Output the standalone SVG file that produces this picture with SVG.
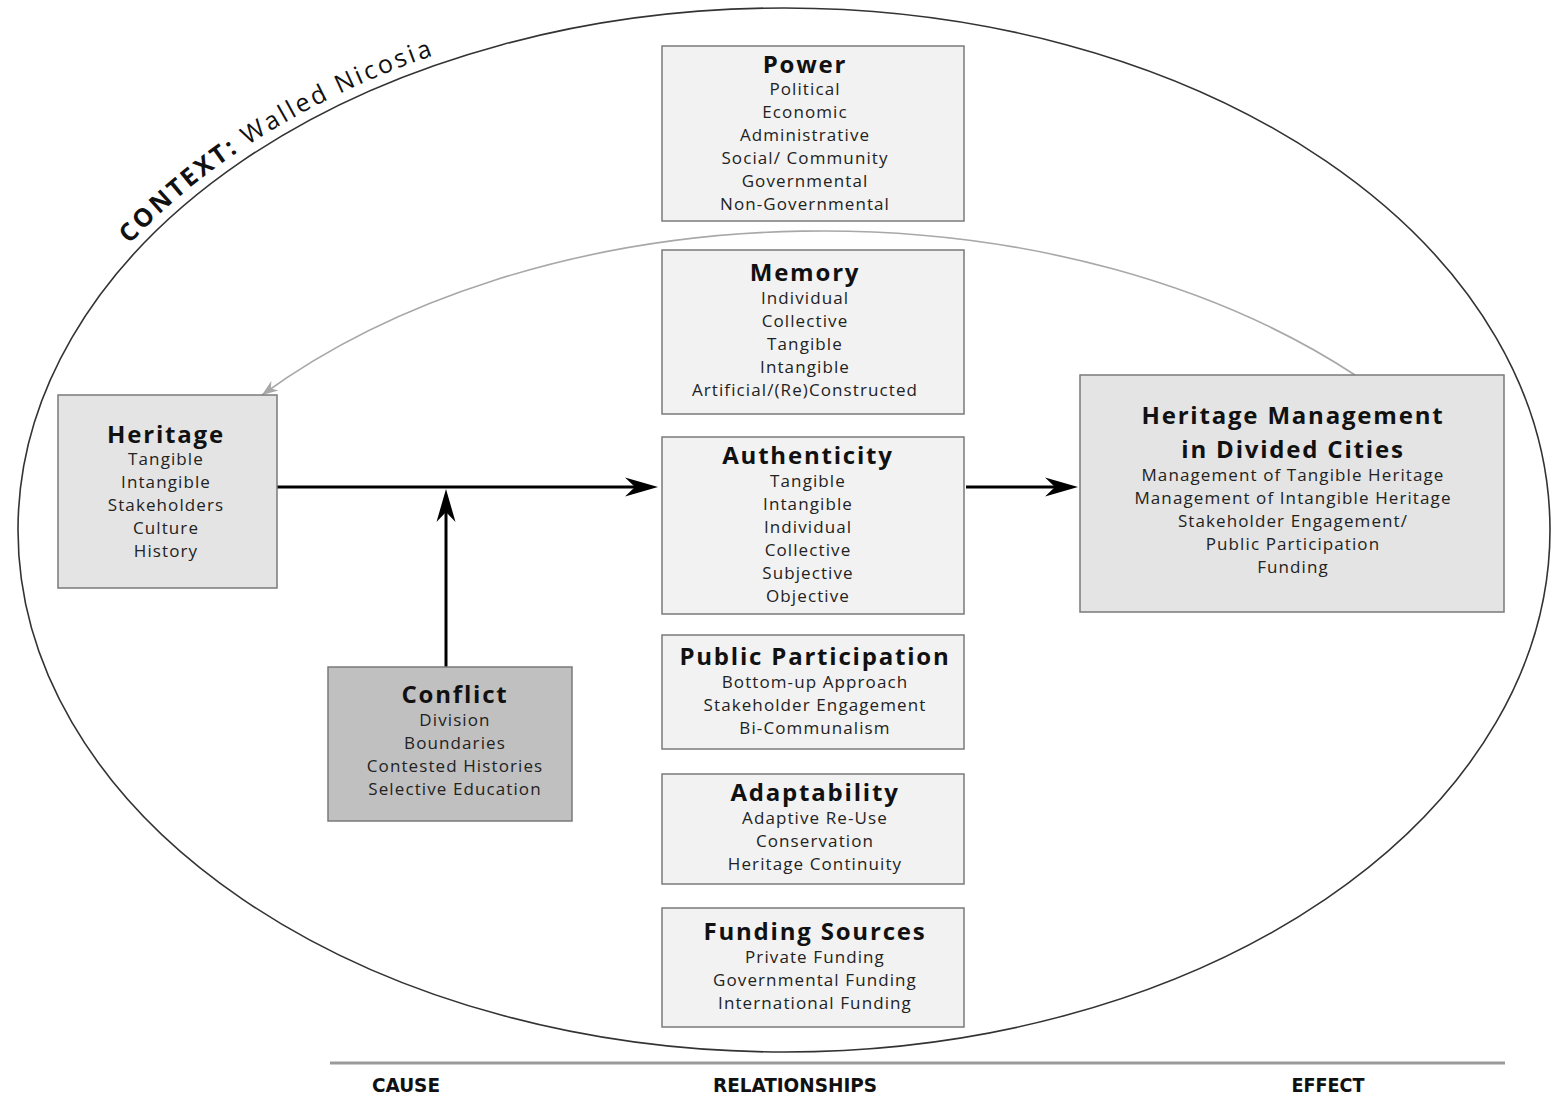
<svg xmlns="http://www.w3.org/2000/svg" width="1551" height="1097" viewBox="0 0 1551 1097">
  <style>
    .box { stroke: #7a7a7a; stroke-width: 1.5; }
    .light { fill: #f2f2f2; }
    .mid { fill: #e4e4e4; }
    .dark { fill: #c0c0c0; }
    .title { font-family: "Open Sans", "Noto Sans", sans-serif; font-weight: 700; font-size: 24px; letter-spacing: 1.8px; fill: #111; text-anchor: middle; }
    .item { font-family: "Open Sans", "Noto Sans", sans-serif; font-size: 17px; letter-spacing: 1.1px; fill: #222; text-anchor: middle; }
    .axis { font-family: "Liberation Sans Narrow", "DejaVu Sans Condensed", "Liberation Sans", sans-serif; font-stretch: condensed; font-weight: 700; font-size: 20px; fill: #111; text-anchor: middle; }
    .ctx { font-family: "Open Sans", "Noto Sans", sans-serif; font-size: 25px; letter-spacing: 2.8px; fill: #111; }
    .flow { fill: none; stroke: #000; stroke-width: 3; }
    .feedback { fill: none; stroke: #a8a8a8; stroke-width: 1.6; }
  </style>
  <defs>
    <marker id="head" markerUnits="userSpaceOnUse" viewBox="-36 -11 38 22" markerWidth="38" markerHeight="22" refX="-18" refY="0" orient="auto">
      <path d="M0,0 L-33,-9.5 L-23,0 L-33,9.5 Z" fill="#000"/>
    </marker>
    <marker id="headGrey" markerUnits="userSpaceOnUse" viewBox="-18 -7 20 14" markerWidth="20" markerHeight="14" refX="0" refY="0" orient="auto">
      <path d="M0,0 L-16,-6 L-11,0 L-16,6 Z" fill="#a8a8a8"/>
    </marker>
    <path id="ctxPath" d="M 8 530 A 776 532 0 0 1 784 -2"/>
  </defs>

  <rect width="1551" height="1097" fill="#fff"/>

  <!-- context boundary -->
  <g id="context">
    <ellipse cx="784" cy="530" rx="766" ry="522" fill="none" stroke="#333" stroke-width="1.6"/>
    <text class="ctx"><textPath href="#ctxPath" startOffset="318"><tspan font-weight="700">CONTEXT:</tspan> Walled Nicosia</textPath></text>
  </g>

  <!-- connectors -->
  <g id="connectors">
    <path class="feedback" d="M 1355 375 A 750 488 0 0 0 262 395" marker-end="url(#headGrey)"/>
    <path class="flow" d="M 277 487 L 640 487" marker-end="url(#head)"/>
    <path class="flow" d="M 446 667 L 446 507" marker-end="url(#head)"/>
    <path class="flow" d="M 966 487 L 1060 487" marker-end="url(#head)"/>
  </g>

  <g id="power">
    <rect class="box light" x="662" y="46" width="302" height="175"/>
    <text class="title" x="805" y="73">Power</text>
    <text class="item" x="805" y="95">Political</text>
    <text class="item" x="805" y="118">Economic</text>
    <text class="item" x="805" y="141">Administrative</text>
    <text class="item" x="805" y="164">Social/ Community</text>
    <text class="item" x="805" y="187">Governmental</text>
    <text class="item" x="805" y="210">Non-Governmental</text>
  </g>

  <g id="memory">
    <rect class="box light" x="662" y="250" width="302" height="164"/>
    <text class="title" x="805" y="281">Memory</text>
    <text class="item" x="805" y="304">Individual</text>
    <text class="item" x="805" y="327">Collective</text>
    <text class="item" x="805" y="350">Tangible</text>
    <text class="item" x="805" y="373">Intangible</text>
    <text class="item" x="805" y="396">Artificial/(Re)Constructed</text>
  </g>

  <g id="authenticity">
    <rect class="box light" x="662" y="437" width="302" height="177"/>
    <text class="title" x="808" y="464">Authenticity</text>
    <text class="item" x="808" y="487">Tangible</text>
    <text class="item" x="808" y="510">Intangible</text>
    <text class="item" x="808" y="533">Individual</text>
    <text class="item" x="808" y="556">Collective</text>
    <text class="item" x="808" y="579">Subjective</text>
    <text class="item" x="808" y="602">Objective</text>
  </g>

  <g id="public-participation">
    <rect class="box light" x="662" y="635" width="302" height="114"/>
    <text class="title" x="815" y="665">Public Participation</text>
    <text class="item" x="815" y="688">Bottom-up Approach</text>
    <text class="item" x="815" y="711">Stakeholder Engagement</text>
    <text class="item" x="815" y="734">Bi-Communalism</text>
  </g>

  <g id="adaptability">
    <rect class="box light" x="662" y="774" width="302" height="110"/>
    <text class="title" x="815" y="801">Adaptability</text>
    <text class="item" x="815" y="824">Adaptive Re-Use</text>
    <text class="item" x="815" y="847">Conservation</text>
    <text class="item" x="815" y="870">Heritage Continuity</text>
  </g>

  <g id="funding-sources">
    <rect class="box light" x="662" y="908" width="302" height="119"/>
    <text class="title" x="815" y="940">Funding Sources</text>
    <text class="item" x="815" y="963">Private Funding</text>
    <text class="item" x="815" y="986">Governmental Funding</text>
    <text class="item" x="815" y="1009">International Funding</text>
  </g>

  <g id="heritage">
    <rect class="box mid" x="58" y="395" width="219" height="193"/>
    <text class="title" x="166" y="443">Heritage</text>
    <text class="item" x="166" y="465">Tangible</text>
    <text class="item" x="166" y="488">Intangible</text>
    <text class="item" x="166" y="511">Stakeholders</text>
    <text class="item" x="166" y="534">Culture</text>
    <text class="item" x="166" y="557">History</text>
  </g>

  <g id="conflict">
    <rect class="box dark" x="328" y="667" width="244" height="154"/>
    <text class="title" x="455" y="703">Conflict</text>
    <text class="item" x="455" y="726">Division</text>
    <text class="item" x="455" y="749">Boundaries</text>
    <text class="item" x="455" y="772">Contested Histories</text>
    <text class="item" x="455" y="795">Selective Education</text>
  </g>

  <g id="heritage-management">
    <rect class="box mid" x="1080" y="375" width="424" height="237"/>
    <text class="title" x="1293" y="424">Heritage Management</text>
    <text class="title" x="1293" y="458">in Divided Cities</text>
    <text class="item" x="1293" y="481">Management of Tangible Heritage</text>
    <text class="item" x="1293" y="504">Management of Intangible Heritage</text>
    <text class="item" x="1293" y="527">Stakeholder Engagement/</text>
    <text class="item" x="1293" y="550">Public Participation</text>
    <text class="item" x="1293" y="573">Funding</text>
  </g>

  <!-- cause / relationships / effect axis -->
  <g id="axis">
    <line x1="330" y1="1063" x2="1505" y2="1063" stroke="#9a9a9a" stroke-width="3"/>
    <text class="axis" x="406" y="1092" textLength="68" lengthAdjust="spacingAndGlyphs">CAUSE</text>
    <text class="axis" x="795" y="1092" textLength="164" lengthAdjust="spacingAndGlyphs">RELATIONSHIPS</text>
    <text class="axis" x="1328" y="1092" textLength="73" lengthAdjust="spacingAndGlyphs">EFFECT</text>
  </g>
</svg>
